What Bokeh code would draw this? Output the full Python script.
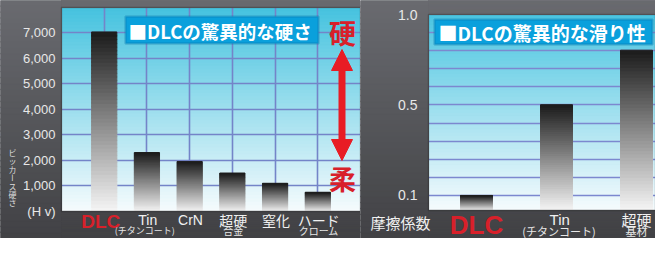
import math
from bokeh.plotting import figure
from bokeh.layouts import row
from bokeh.models import (Range1d, FixedTicker, NumeralTickFormatter, ColumnDataSource,
                          Label, BoxAnnotation, Arrow, NormalHead)
from bokeh.embed import file_html
from bokeh.resources import INLINE

# ---------------- data ----------------
hard_materials = ["DLC", "Tin", "CrN", "超硬合金", "窒化", "ハードクローム"]
hard_hv = [7000, 2300, 1950, 1500, 1100, 750]
hard_label_top = ["DLC", "Tin", "CrN", "超硬", "窒化", "ハード"]
hard_label_bottom = ["", "(チタンコート)", "", "合金", "", "クローム"]
hard_ticks = [0, 1000, 2000, 3000, 4000, 5000, 6000, 7000]
hard_tick_overrides = {0: "(H v)"}

fric_materials = ["DLC", "Tin", "超硬基材"]
fric_mu = [0.1, 0.5, 0.8]
fric_label_top = ["DLC", "Tin", "超硬"]
fric_label_bottom = ["", "(チタンコート)", "基材"]
fric_tick_labels = {0.0: "0.1", 0.5: "0.5", 1.0: "1.0"}

# ---------------- style helpers ----------------
H = 238
CJK = "Noto Sans CJK JP"
LAT = "Liberation Sans"
RED = "#d8202a"
GRAY_TOP, GRAY_BOT = "#6a6b70", "#3f3f42"


def hex2rgb(h):
    h = h.lstrip("#")
    return tuple(int(h[i:i + 2], 16) for i in (0, 2, 4))


def lerp(c1, c2, t):
    a, b = hex2rgb(c1), hex2rgb(c2)
    t = max(0.0, min(1.0, t))
    return "#%02x%02x%02x" % tuple(round(a[i] + (b[i] - a[i]) * t) for i in range(3))


def bands(x0, x1, y0, y1, color_fn, n):
    """vertical gradient rectangle as n thin quads; color_fn(t) with t=0 bottom .. 1 top"""
    L, R, B, T, C = [], [], [], [], []
    for k in range(n):
        b0 = y0 + (y1 - y0) * k / n
        b1 = y0 + (y1 - y0) * (k + 1) / n
        L.append(x0); R.append(x1); B.append(b0); T.append(b1 + (y1 - y0) * 0.003)
        C.append(color_fn((k + 0.5) / n))
    return L, R, B, T, C


def gradient_bars(xs, tops, base, width, n=48, top_col="#1c1c1c", bot_col="#f6f6f6"):
    cols = {k: [] for k in ("left", "right", "bottom", "top", "color")}
    for x, top in zip(xs, tops):
        L, R, B, T, C = bands(x - width / 2, x + width / 2, base, top,
                              lambda t: lerp(bot_col, top_col, t), n)
        for key, arr in zip(("left", "right", "bottom", "top", "color"), (L, R, B, T, C)):
            cols[key] += arr
    return ColumnDataSource(cols)


def add_gray_masks(p, rects, ypix):
    """gray page-gradient areas around the plotting area; ypix(data_y) -> page pixel"""
    cols = {k: [] for k in ("left", "right", "bottom", "top", "color")}
    for (x0, x1, y0, y1) in rects:
        def fn(t, y0=y0, y1=y1):
            return lerp(GRAY_TOP, GRAY_BOT, ypix(y0 + (y1 - y0) * t) / 254)
        L, R, B, T, C = bands(x0, x1, y0, y1, fn, 40)
        for key, arr in zip(("left", "right", "bottom", "top", "color"), (L, R, B, T, C)):
            cols[key] += arr
    p.quad(left="left", right="right", bottom="bottom", top="top", color="color",
           source=ColumnDataSource(cols))


def style_axis(ax, size):
    ax.axis_line_color = None
    ax.major_tick_line_color = None
    ax.minor_tick_line_color = None
    ax.major_tick_out = 0
    ax.major_tick_in = 0
    ax.major_label_text_color = "#e8e8e8"
    ax.major_label_text_font = LAT
    ax.major_label_text_font_size = size


# ================= left chart: hardness =================
F1_TOP, F1_BOT, F1_LEFT, F1_RIGHT = 7, 211, 61, 360
Y1MAX = 7977


def X1(xp):
    return (xp - F1_LEFT) * 7 / (F1_RIGHT - F1_LEFT)


def Y1(yp):
    return (F1_BOT - yp) * Y1MAX / (F1_BOT - F1_TOP)


def Y1pix(y):
    return F1_BOT - y * (F1_BOT - F1_TOP) / Y1MAX


p1 = figure(width=360, height=H, x_range=Range1d(X1(0), 7), y_range=Range1d(Y1(H), Y1(0)),
            output_backend="svg", toolbar_location=None,
            min_border_left=0, min_border_right=0, min_border_top=0, min_border_bottom=0,
            border_fill_color=GRAY_BOT, background_fill_color="#55565a",
            outline_line_color=None)

L, R, B, T, C = bands(0, 7, 0, Y1MAX, lambda t: lerp("#f6fbfd", "#46c3df", t), 60)
p1.quad(left=L, right=R, bottom=B, top=T, color=C, level="image")

hx = list(range(1, len(hard_hv) + 1))
p1.quad(left="left", right="right", bottom="bottom", top="top", color="color",
        source=gradient_bars(hx, hard_hv, 0, 0.59))

add_gray_masks(p1, [(X1(0), 0, Y1(H), Y1(0)), (0, 7, Y1(H), 0), (0, 7, Y1MAX, Y1(0))], Y1pix)

p1.xaxis.visible = False
p1.xgrid.ticker = FixedTicker(ticks=hx)
p1.ygrid.ticker = FixedTicker(ticks=hard_ticks[1:])
for g in (p1.xgrid, p1.ygrid):
    g.grid_line_color = "#7484c8"
    g.grid_line_width = 1.6
ya = p1.yaxis[0]
ya.fixed_location = 0
ya.ticker = FixedTicker(ticks=hard_ticks)
ya.formatter = NumeralTickFormatter(format="0,0")
ya.major_label_overrides = hard_tick_overrides
ya.major_label_standoff = 6
style_axis(ya, "13px")

p1.add_layout(BoxAnnotation(left=0, right=7, bottom=0, top=Y1MAX, fill_alpha=0,
                            line_color="#1e1e1e", line_width=1.5))

# title box
p1.add_layout(BoxAnnotation(left=X1(125), right=X1(318), top=Y1(16), bottom=Y1(43),
                            fill_color="#0aa0dc", fill_alpha=1.0,
                            line_color="#0b6fa6", line_width=2.5))
p1.add_layout(Label(x=X1(128), y=Y1(30), text="■DLCの驚異的な硬さ", text_align="left",
                    text_baseline="middle", text_color="white", text_font=CJK,
                    text_font_style="bold", text_font_size="18.5px"))

# hard / soft indicator
p1.add_layout(Label(x=X1(342), y=Y1(32), text="硬", text_align="center", text_baseline="middle",
                    text_color=RED, text_font=CJK, text_font_style="bold", text_font_size="27px"))
p1.add_layout(Label(x=X1(342), y=Y1(178), text="柔", text_align="center", text_baseline="middle",
                    text_color=RED, text_font=CJK, text_font_style="bold", text_font_size="27px"))
p1.add_layout(Arrow(x_start=X1(341.5), y_start=Y1(160), x_end=X1(341.5), y_end=Y1(49),
                    line_color="#e81c24", line_width=7,
                    start=NormalHead(size=21, fill_color="#e81c24", line_color="#e81c24"),
                    end=NormalHead(size=21, fill_color="#e81c24", line_color="#e81c24")))

# y axis caption (vertical, upright characters)
vchars = ["ビ", "ッ", "カ", "ー", "ス", "硬", "さ"]
for i, ch in enumerate(vchars):
    p1.add_layout(Label(x=X1(12), y=Y1(152 + i * 8.4), text=ch, text_align="center",
                        text_baseline="middle", text_color="#dcdcdc", text_font=CJK,
                        text_font_size="8px", angle=(-math.pi / 2 if ch == "ー" else 0)))

# category labels
for i, (t1, t2) in enumerate(zip(hard_label_top, hard_label_bottom)):
    if t1 == "DLC":
        p1.add_layout(Label(x=hx[i] - 0.08, y=Y1(221), text=t1, text_align="center",
                            text_baseline="middle", text_color=RED, text_font=LAT,
                            text_font_style="bold", text_font_size="19px"))
    else:
        is_cjk = ord(t1[0]) > 255
        p1.add_layout(Label(x=hx[i] + 0.02, y=Y1(219), text=t1, text_align="center",
                            text_baseline="middle", text_color="#f0f0f0",
                            text_font=CJK if is_cjk else LAT, text_font_size="14px"))
    if t2:
        small = t2.startswith("(")
        p1.add_layout(Label(x=hx[i] - (0.05 if small else -0.02), y=Y1(229.5), text=t2,
                            text_align="center", text_baseline="middle", text_color="#e8e8e8",
                            text_font=CJK, text_font_size="9px" if small else "10px"))

# ================= right chart: friction =================
P2_X = 360          # page x of the right figure
F2_TOP, F2_BOT, F2_LEFT = 14, 210, 428
Y2LOW = -0.083
X2END = 0.4 + (655 - F2_LEFT) / 80


def X2(xp):
    return 0.4 + (xp - F2_LEFT) / 80


def Y2(yp):
    return 1.0 - (yp - F2_TOP) * (1.0 - Y2LOW) / (F2_BOT - F2_TOP)


def Y2pix(y):
    return F2_TOP + (1.0 - y) * (F2_BOT - F2_TOP) / (1.0 - Y2LOW)


def mu_pos(v):
    # the drawn scale places the "0.1" label one grid step below the regular spacing
    return (v - 0.1) * 1.25 if v <= 0.5 else v


p2 = figure(width=655 - P2_X, height=H, x_range=Range1d(X2(P2_X), X2END),
            y_range=Range1d(Y2(H), Y2(0)),
            output_backend="svg", toolbar_location=None,
            min_border_left=0, min_border_right=0, min_border_top=0, min_border_bottom=0,
            border_fill_color=GRAY_BOT, background_fill_color="#55565a",
            outline_line_color=None)

L, R, B, T, C = bands(0.4, X2END, Y2LOW, 1.0, lambda t: lerp("#f6fbfd", "#4bc5e1", t), 60)
p2.quad(left=L, right=R, bottom=B, top=T, color=C, level="image")

fx = list(range(1, len(fric_mu) + 1))
p2.quad(left="left", right="right", bottom="bottom", top="top", color="color",
        source=gradient_bars(fx, [mu_pos(v) for v in fric_mu], Y2LOW, 0.4))

add_gray_masks(p2, [(X2(P2_X), 0.4, Y2(H), Y2(0)), (0.4, X2END, Y2(H), Y2LOW),
                    (0.4, X2END, 1.0, Y2(0))], Y2pix)

p2.xaxis.visible = False
p2.xgrid.visible = False
p2.ygrid.ticker = FixedTicker(ticks=[k / 10 for k in range(10)])
p2.ygrid.grid_line_color = "#7c88cf"
p2.ygrid.grid_line_width = 1.6
ya2 = p2.yaxis[0]
ya2.fixed_location = 0.4
ya2.ticker = FixedTicker(ticks=list(fric_tick_labels.keys()))
ya2.major_label_overrides = fric_tick_labels
ya2.major_label_standoff = 11
style_axis(ya2, "14px")

p2.add_layout(BoxAnnotation(left=0.4, right=X2END, bottom=Y2LOW, top=1.0, fill_alpha=0,
                            line_color="#1e1e1e", line_width=1.5))

p2.add_layout(BoxAnnotation(left=X2(434), right=X2(652), top=Y2(19), bottom=Y2(44),
                            fill_color="#0aa0dc", fill_alpha=1.0,
                            line_color="#0b6fa6", line_width=2.5))
p2.add_layout(Label(x=X2(438), y=Y2(32), text="■DLCの驚異的な滑り性", text_align="left",
                    text_baseline="middle", text_color="white", text_font=CJK,
                    text_font_style="bold", text_font_size="19px"))

p2.add_layout(Label(x=X2(400), y=Y2(222), text="摩擦係数", text_align="center", text_baseline="middle",
                    text_color="#f0f0f0", text_font=CJK, text_font_size="15px"))

for i, (t1, t2) in enumerate(zip(fric_label_top, fric_label_bottom)):
    if t1 == "DLC":
        p2.add_layout(Label(x=fx[i], y=Y2(224), text=t1, text_align="center", text_baseline="middle",
                            text_color=RED, text_font=LAT, text_font_style="bold",
                            text_font_size="26px"))
    else:
        is_cjk = ord(t1[0]) > 255
        p2.add_layout(Label(x=fx[i] + (0.0 if is_cjk else 0.04), y=Y2(219), text=t1,
                            text_align="center", text_baseline="middle", text_color="#f0f0f0",
                            text_font=CJK if is_cjk else LAT, text_font_size="15px"))
    if t2:
        small = t2.startswith("(")
        p2.add_layout(Label(x=fx[i] + (0.03 if small else 0.0), y=Y2(230), text=t2,
                            text_align="center", text_baseline="middle", text_color="#e8e8e8",
                            text_font=CJK, text_font_size="11px"))

layout = row(p1, p2)
open("out.html", "w").write(file_html(layout, INLINE))
